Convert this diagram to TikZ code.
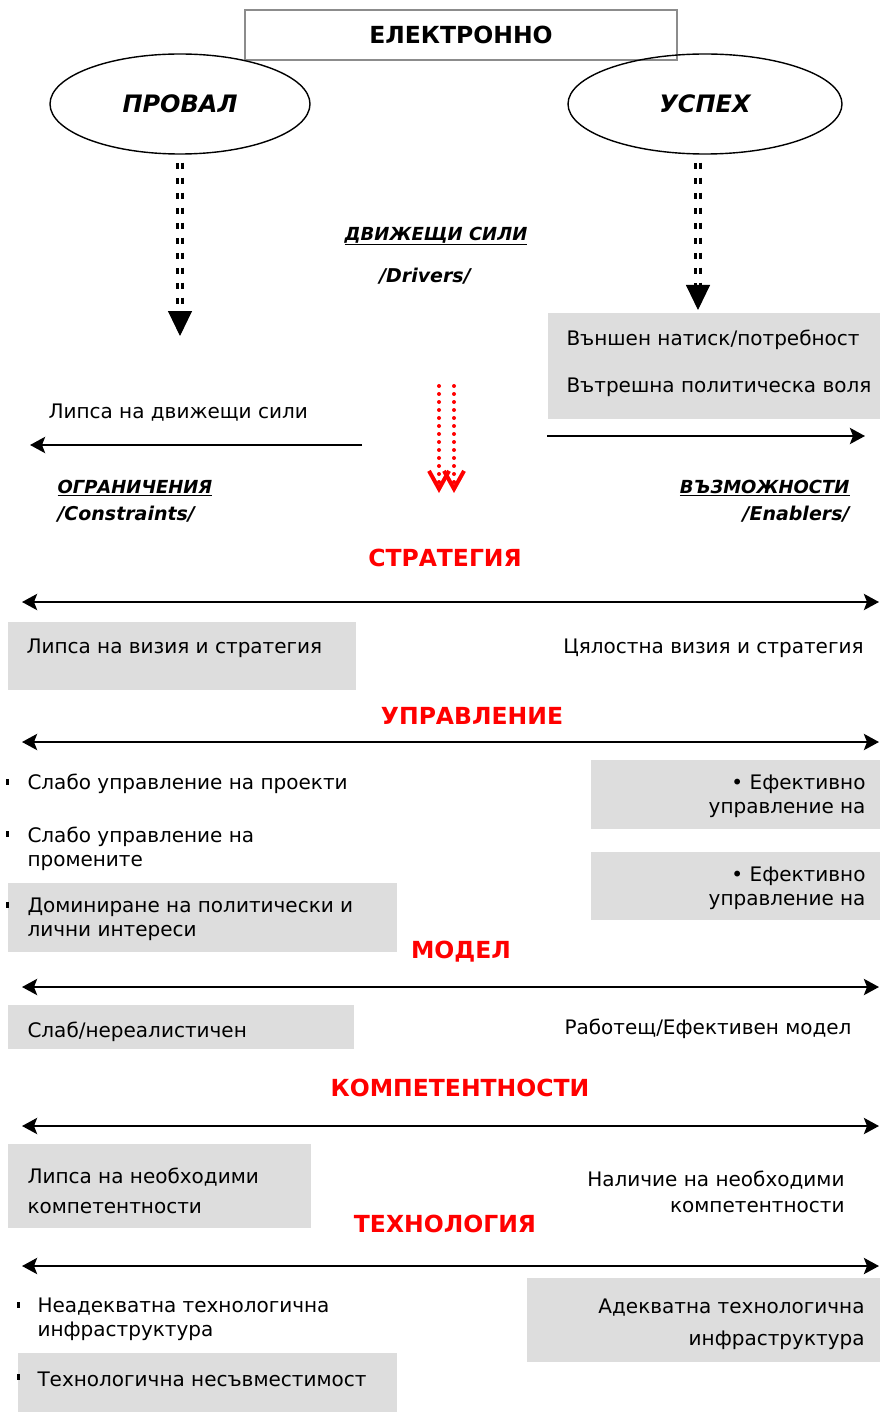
\documentclass[tikz,border=0pt]{standalone}
\usepackage{fontspec}
\setmainfont{DejaVu Sans}
\usepackage{tikz}
\usetikzlibrary{arrows.meta,shapes.geometric}
\definecolor{boxgrey}{HTML}{DDDDDD}
\definecolor{boxline}{HTML}{8C8C8C}
\tikzset{
  txt/.style={font=\fontsize{20}{24}\selectfont, inner sep=0pt, yshift=-2pt},
  ttl/.style={font=\fontsize{23.5}{26}\selectfont\bfseries, text=red, inner sep=0pt},
  tag/.style={font=\fontsize{18}{20}\selectfont\bfseries\itshape, inner sep=0pt},
  greybox/.style={fill=boxgrey, inner sep=0pt, anchor=north west},
  dashline/.style={double, double distance=2.5pt, line width=2.5pt, dash pattern=on 6pt off 9pt},
  bighead/.style={line width=1pt, -{Triangle[length=25pt,width=24pt]}},
  onearrow/.style={line width=2.8pt, -{Stealth[length=15pt,width=16pt,inset=3pt]}},
  axisarrow/.style={line width=2.8pt,
    {Stealth[length=15pt,width=16pt,inset=3pt]}-{Stealth[length=15pt,width=16pt,inset=3pt]}},
  reddots/.style={red, line width=4pt, line cap=round, dash pattern=on 0pt off 8pt,
    -{Straight Barb[length=18pt,width=20pt,line width=4pt]}},
}

\begin{document}
\begin{tikzpicture}[x=1pt, y=-1pt, line width=1pt]
  \useasboundingbox (0,0) rectangle (879,1412);
  \node[draw=boxline, line width=1.8pt, minimum width=432pt, minimum height=50pt,
    font=\fontsize{23.5}{26}\selectfont\bfseries] (elec) at (461,35) {ЕЛЕКТРОННО};
  \node[ellipse, draw, line width=1.4pt, minimum width=260pt, minimum height=100pt,
    font=\fontsize{24}{26}\selectfont\bfseries\itshape] (fail) at (180,104) {ПРОВАЛ};
  \node[ellipse, draw, line width=1.4pt, minimum width=274pt, minimum height=100pt,
    font=\fontsize{24}{26}\selectfont\bfseries\itshape] (success) at (705,104) {УСПЕХ};

  % the drivers: two dashed strokes close together and one solid head
  \coordinate (failend) at (180,313);
  \coordinate (failtip) at (180,336);
  \draw[dashline] ([yshift=-8pt]fail.south) -- (failend);
  \draw[bighead] (failend) -- (failtip);
  \coordinate (succend) at (698,288);
  \coordinate (succtip) at (698,310);
  \draw[dashline] ([xshift=-7pt,yshift=-8pt]success.south) -- (succend);
  \draw[bighead] (succend) -- (succtip);

  \node[tag] (drv) at (436,236) {\underline{ДВИЖЕЩИ СИЛИ}};
  \node[tag, font=\fontsize{19}{20}\selectfont\bfseries\itshape] (drven) at (425,276) {/Drivers/};

  \node[greybox, minimum width=332pt, minimum height=106pt] (push) at (547,312) {};
  \node[txt, anchor=west] (push1) at (566,338) {Външен натиск/потребност};
  \node[txt, anchor=west] (push2) at (566,385) {Вътрешна политическа воля};
  \node[txt, anchor=west] (nodrv) at (48,411) {Липса на движещи сили};

  \coordinate (lft0) at (362,445);
  \coordinate (lft1) at (30,445);
  \draw[onearrow] (lft0) -- (lft1);
  \coordinate (rgt0) at (547,436);
  \coordinate (rgt1) at (865,436);
  \draw[onearrow] (rgt0) -- (rgt1);

  \foreach \i/\x in {1/439, 2/454}{
    \coordinate (rd\i) at (\x,386);
    \coordinate (rt\i) at (\x,493);
    \draw[reddots] (rd\i) -- (rt\i);}

  \node[tag, anchor=west] (cons) at (57,488) {\underline{ОГРАНИЧЕНИЯ}};
  \node[tag, anchor=west, font=\fontsize{19}{20}\selectfont\bfseries\itshape] (consen) at (57,514) {/Constraints/};
  \node[tag, anchor=east] (enab) at (850,488) {\underline{ВЪЗМОЖНОСТИ}};
  \node[tag, anchor=east, font=\fontsize{19}{20}\selectfont\bfseries\itshape] (enaben) at (850,514) {/Enablers/};

  \foreach \i/\tx/\ty/\ay/\lab in {1/445/558/602/СТРАТЕГИЯ, 2/472/716/742/УПРАВЛЕНИЕ,
      3/461/952/987/МОДЕЛ, 4/460/1088/1126/КОМПЕТЕНТНОСТИ, 5/445/1224/1266/ТЕХНОЛОГИЯ}{
    \node[ttl] (ttl\i) at (\tx,\ty) {\lab};
    \coordinate (al\i) at (22,\ay);
    \coordinate (ar\i) at (879,\ay);
    \draw[axisarrow] (al\i) -- (ar\i);}

  \foreach \n/\x/\y/\w/\h in {b1/7/621/348/68, b2/590/759/289/69, b3/590/851/289/68,
      b4/7/882/389/69, b5/7/1004/346/44, b6/7/1143/303/84, b7/526/1277/353/84, b8/17/1352/379/60}
    \node[greybox, minimum width={\w pt}, minimum height={\h pt}] (\n) at (\x,\y) {};

  \foreach \x/\y in {6/781, 6/833, 6/904, 17/1304, 17/1376}
    \fill (\x,\y-2) rectangle (\x+3,\y+4);

  \node[txt, anchor=west] (vis0) at (26,646) {Липса на визия и стратегия};
  \node[txt, anchor=east] (vis1) at (864,646) {Цялостна визия и стратегия};
  \node[txt, anchor=west] (mg1) at (27,782) {Слабо управление на проекти};
  \node[txt, anchor=west, align=left] (mg2) at (27,847) {Слабо управление на\\промените};
  \node[txt, anchor=west, align=left] (mg3) at (27,917) {Доминиране на политически и\\лични интереси};
  \node[txt, anchor=east, align=right] (mg4) at (866,794) {• Ефективно\\управление на};
  \node[txt, anchor=east, align=right] (mg5) at (866,886) {• Ефективно\\управление на};
  \node[txt, anchor=west] (md0) at (27,1030) {Слаб/нереалистичен};
  \node[txt, anchor=east] (md1) at (852,1027) {Работещ/Ефективен модел};
  \node[txt, anchor=west, align=left, font=\fontsize{20}{30}\selectfont] (cp0) at (27,1189)
    {Липса на необходими\\компетентности};
  \node[txt, anchor=east, align=right, font=\fontsize{20}{26}\selectfont] (cp1) at (845,1190)
    {Наличие на необходими\\компетентности};
  \node[txt, anchor=west, align=left] (th0) at (37,1317) {Неадекватна технологична\\инфраструктура};
  \node[txt, anchor=west] (th1) at (37,1377) {Технологична несъвместимост};
  \node[txt, anchor=east, align=right, font=\fontsize{20}{32}\selectfont] (th2) at (865,1322)
    {Адекватна технологична\\инфраструктура};
\end{tikzpicture}
\end{document}
